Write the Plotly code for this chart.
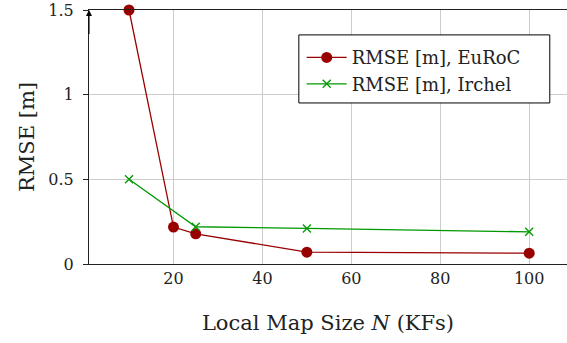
import plotly.graph_objects as go

map_size_euroc = [10, 20, 25, 50, 100]
rmse_euroc = [1.5, 0.218, 0.178, 0.07, 0.064]
map_size_irchel = [10, 25, 50, 100]
rmse_irchel = [0.5, 0.22, 0.21, 0.19]
x_ticks = [20, 40, 60, 80, 100]
y_ticks = [0, 0.5, 1, 1.5]
y_tick_labels = ["0", "0.5", "1", "1.5"]

FONT = "DejaVu Serif"
RED = "#990000"
GREEN = "#009900"

fig = go.Figure()
fig.add_trace(go.Scatter(
    x=map_size_euroc, y=rmse_euroc, mode="lines+markers",
    name="RMSE [m], EuRoC",
    line=dict(color=RED, width=1.3),
    marker=dict(symbol="circle", size=11, color=RED),
    cliponaxis=False,
))
fig.add_trace(go.Scatter(
    x=map_size_irchel, y=rmse_irchel, mode="lines+markers",
    name="RMSE [m], Irchel",
    line=dict(color=GREEN, width=1.3),
    marker=dict(symbol="x-thin", size=8, color=GREEN, line=dict(color=GREEN, width=1.3)),
    cliponaxis=False,
))

fig.add_annotation(
    x=1, y=1.5, xref="x", yref="y", ax=1, ay=1.35, axref="x", ayref="y",
    showarrow=True, arrowhead=2, arrowsize=1.1, arrowwidth=1.1, arrowcolor="black", text="",
)

# legend frame
fig.add_shape(
    type="rect", xref="paper", yref="paper",
    x0=0.439, x1=0.964, y0=0.634, y1=0.902,
    fillcolor="white", line=dict(color="black", width=1), layer="above",
)

fig.update_layout(
    width=567, height=343,
    margin=dict(l=89, r=0, t=10, b=79, autoexpand=False),
    paper_bgcolor="white", plot_bgcolor="white",
    font=dict(family=FONT, size=17, color="#222222"),
    showlegend=True,
    legend=dict(
        x=0.445, y=0.885, xanchor="left", yanchor="top",
        bgcolor="rgba(0,0,0,0)", borderwidth=0,
        font=dict(family=FONT, size=18, color="#222222"),
        tracegroupgap=0, itemwidth=40,
    ),
    xaxis=dict(
        range=[1, 108.5], tickvals=x_ticks, automargin=False,
        showgrid=True, gridcolor="#cccccc", gridwidth=1,
        showline=True, linecolor="#222222", linewidth=1.2, mirror=True,
        ticks="", zeroline=False,
        tickfont=dict(family=FONT, size=16),
        title=dict(text="Local Map Size <i>N</i> (KFs)", font=dict(family=FONT, size=21), standoff=28),
    ),
    yaxis=dict(
        range=[0, 1.5], tickvals=y_ticks, ticktext=y_tick_labels, automargin=False,
        showgrid=True, gridcolor="#cccccc", gridwidth=1,
        showline=True, linecolor="#222222", linewidth=1.2,
        ticks="outside", ticklen=5, tickcolor="#222222",
        zeroline=False,
        tickfont=dict(family=FONT, size=16),
        ticklabelstandoff=6,
        title=dict(text="RMSE [m]", font=dict(family=FONT, size=21), standoff=7),
    ),
)

fig.write_html("out.html", config={"displayModeBar": False},
               post_script="document.body.style.margin='0px';")
